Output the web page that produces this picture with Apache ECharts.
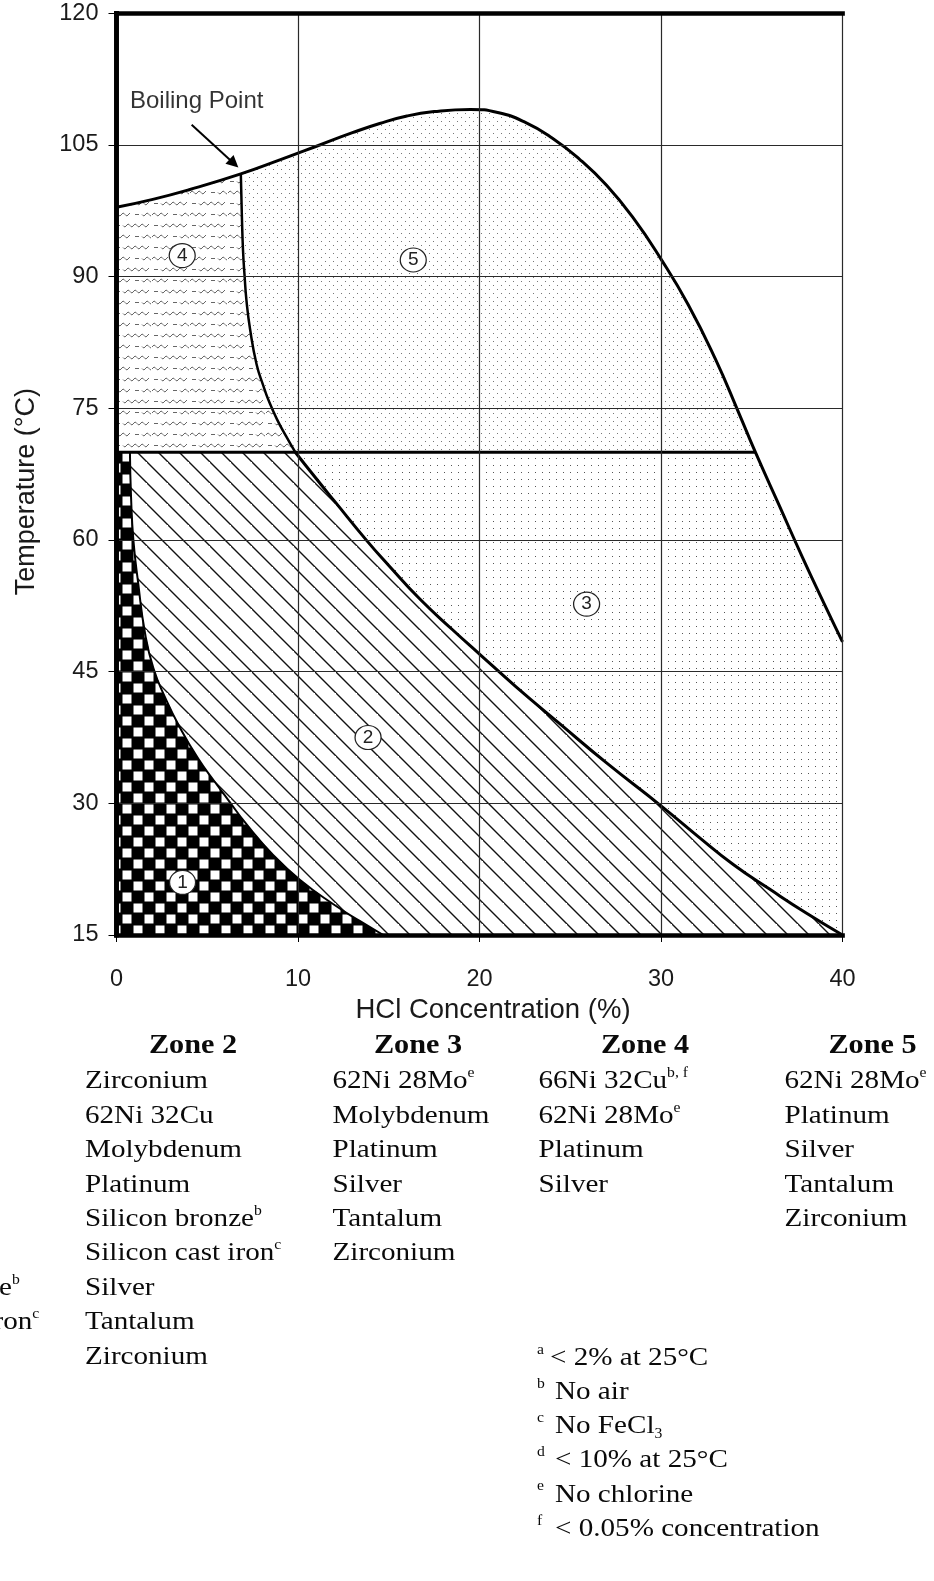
<!DOCTYPE html>
<html>
<head>
<meta charset="utf-8">
<title>HCl corrosion zones</title>
<script src="https://cdn.jsdelivr.net/npm/echarts@6.0.0/dist/echarts.min.js"></script>
<style>
  html, body { margin: 0; padding: 0; background: #ffffff; }
  #chart { width: 934px; height: 1581px; }
</style>
</head>
<body>
<div id="chart"></div>
<script>
// ---- Zone boundaries, as [HCl concentration %, temperature °C] ----
const boilingPoint = [
  [0, 97.9], [2, 98.8], [4, 99.9], [6.85, 101.7], [9, 103.3], [11.2, 105.0],
  [13, 106.4], [14.5, 107.45], [16, 108.3], [17.5, 108.8], [19.5, 109.05],
  [21, 108.7], [22.5, 107.6], [24, 105.8], [25.5, 103.4], [27, 100.4],
  [28.5, 96.6], [30, 92.0], [31.5, 86.8], [33, 80.6], [34.26, 74.6],
  [35.2, 70.0], [36.5, 64.0], [37.8, 58.0], [39, 52.7], [40, 48.4]
];
const zone45Divider = [
  [6.85, 101.7], [6.9, 97.5], [6.97, 93], [7.06, 90], [7.16, 87.3], [7.36, 84],
  [7.72, 80], [8.1, 77.5], [8.36, 76], [8.83, 73.8], [9.35, 71.8], [9.85, 70]
];
const zone23Boundary = [
  [9.85, 70], [11, 67.0], [12, 64.45], [13.8, 59.9], [15, 57.1], [16.7, 53.3],
  [18.5, 49.8], [20, 47.0], [22, 43.3], [24.4, 39.1], [27, 34.6], [29.95, 29.8],
  [32, 26.3], [34, 23.0], [36, 20.2], [38, 17.5], [40, 15]
];
const zone12Boundary = [
  [0.74, 70], [0.8, 65], [0.93, 60], [1.2, 55], [1.57, 49.4], [2.03, 45.4],
  [2.67, 42.1], [3.5, 38.6], [4.5, 35.1], [5.43, 32.4], [6.15, 30.4], [7.17, 27.6],
  [8.64, 24.1], [10.1, 21.3], [11.95, 18.5], [13.4, 16.6], [14.7, 15]
];
const limit70 = [[0, 70], [35.2, 70]];

// ---- Axes ----
const xMin = 0, xMax = 40, xStep = 10;
const yMin = 15, yMax = 120, yStep = 15;
const xTitle = 'HCl Concentration (%)';
const yTitle = 'Temperature (°C)';

// ---- Zone markers ----
const zoneIds = ['1', '2', '3', '4', '5'];
const zoneLabelX = [3.64, 13.86, 25.9, 3.62, 16.35];
const zoneLabelT = [21.0, 37.5, 52.7, 92.4, 91.9];

// ---- Boiling point callout ----
const boilingLabel = 'Boiling Point';
const boilingLabelAt = [4.42, 110.0];
const arrowFrom = [4.14, 107.3];
const arrowTo = [6.47, 102.9];

// ---- Materials per zone: [name, superscript note] ----
const zone1Materials = [['Silicon bronze', 'b'], ['Silicon cast iron', 'c']];
const zone2Materials = [
  ['Zirconium', ''], ['62Ni 32Cu', ''], ['Molybdenum', ''], ['Platinum', ''],
  ['Silicon bronze', 'b'], ['Silicon cast iron', 'c'], ['Silver', ''],
  ['Tantalum', ''], ['Zirconium', '']
];
const zone3Materials = [
  ['62Ni 28Mo', 'e'], ['Molybdenum', ''], ['Platinum', ''], ['Silver', ''],
  ['Tantalum', ''], ['Zirconium', '']
];
const zone4Materials = [['66Ni 32Cu', 'b, f'], ['62Ni 28Mo', 'e'], ['Platinum', ''], ['Silver', '']];
const zone5Materials = [
  ['62Ni 28Mo', 'e'], ['Platinum', ''], ['Silver', ''], ['Tantalum', ''], ['Zirconium', '']
];
const footnoteKeys = ['a', 'b', 'c', 'd', 'e', 'f'];
const footnoteTexts = ['< 2% at 25°C', 'No air', 'No FeCl', '< 10% at 25°C', 'No chlorine', '< 0.05% concentration'];
const footnoteSubs = ['', '', '3', '', '', ''];

// ---- Styling ----
const SANS = '"Liberation Sans", Arial, sans-serif';
const SERIF = '"Liberation Serif", "Times New Roman", serif';
const INK = '#0a0a0a';
const TEXT_SCALE = 1.12;

// ---- Fill patterns ----
function tile(w, h, draw) {
  const c = document.createElement('canvas');
  c.width = w; c.height = h;
  draw(c.getContext('2d'), w, h);
  return { image: c, repeat: 'repeat' };
}
const checkerFill = tile(22, 22, (ctx, w, h) => {
  ctx.fillStyle = '#000'; ctx.fillRect(0, 0, w, h);
  ctx.fillStyle = '#fff';
  ctx.fillRect(1.5, 1.5, 9, 9);
  ctx.fillRect(12.5, 12.5, 9, 9);
});
const hatchFill = tile(21, 21, (ctx, w, h) => {
  ctx.strokeStyle = '#111'; ctx.lineWidth = 1.4;
  ctx.beginPath();
  ctx.moveTo(-1, -1); ctx.lineTo(w + 1, h + 1);
  ctx.moveTo(-w - 1, -1); ctx.lineTo(1, h + 1);
  ctx.moveTo(w - 1, -h - 1); ctx.lineTo(2 * w + 1, h + 1);
  ctx.stroke();
});
const sparseDots = tile(7, 7, (ctx) => {
  ctx.fillStyle = '#555'; ctx.fillRect(3, 3, 1, 1);
});
const denseDots = tile(8, 8, (ctx) => {
  ctx.fillStyle = '#777';
  ctx.fillRect(1, 1, 1, 1);
  ctx.fillRect(5, 5, 1, 1);
});
const waveFill = tile(38, 22, (ctx) => {
  ctx.strokeStyle = '#666'; ctx.lineWidth = 1;
  const row = (y0, shift) => {
    ctx.beginPath();
    ctx.moveTo((shift + 2) % 38, y0); ctx.lineTo((shift + 2) % 38 + 4, y0);
    ctx.stroke();
    ctx.beginPath();
    for (let k = 0; k <= 26; k++) {
      const x = (shift + 9 + k);
      const y = y0 + 1.4 * Math.sin(2 * Math.PI * k / 7);
      const xx = x % 38;
      if (k === 0 || xx < (x - 1) % 38) ctx.moveTo(xx, y); else ctx.lineTo(xx, y);
    }
    ctx.stroke();
  };
  row(5.5, 0);
  row(16.5, 19);
});

// ---- Zone polygons built from the shared boundaries ----
const iDiv = boilingPoint.findIndex(p => p[0] === zone45Divider[0][0]);
const iEnd70 = boilingPoint.findIndex(p => p[0] === limit70[1][0]);
const rev = a => a.slice().reverse();
const zonePolygons = [
  [[xMin, yMin], [xMin, 70], ...zone12Boundary],
  [...zone23Boundary, ...rev(zone12Boundary)],
  [...boilingPoint.slice(iEnd70), [xMax, yMin], ...rev(zone23Boundary)],
  [[xMin, 70], ...boilingPoint.slice(0, iDiv + 1), ...zone45Divider],
  [...boilingPoint.slice(iDiv, iEnd70 + 1), ...rev(zone45Divider)]
];
const zoneFills = [checkerFill, hatchFill, sparseDots, waveFill, denseDots];

function outline(data, width) {
  return {
    type: 'line', data, smooth: true, symbol: 'none', silent: true, z: 2,
    lineStyle: { color: '#000', width }
  };
}

// ---- Text block beneath the chart ----
const HEADER_Y = 1046, ROW_Y = 1081.5, ROW_STEP = 34.4;
const itemRich = {
  m: { font: `26px ${SERIF}`, fill: INK, lineHeight: 30 },
  s: { font: `14px ${SERIF}`, fill: INK, lineHeight: 14, verticalAlign: 'top' }
};
const graphic = [];
function addColumn(title, titleX, left, items, firstRow) {
  if (title) {
    graphic.push({
      type: 'text', x: titleX, y: HEADER_Y, scaleX: TEXT_SCALE, silent: true,
      style: { text: title, font: `bold 27px ${SERIF}`, fill: INK, align: 'center', verticalAlign: 'middle' }
    });
  }
  items.forEach((it, i) => {
    graphic.push({
      type: 'text', x: left, y: ROW_Y + (firstRow + i) * ROW_STEP, scaleX: TEXT_SCALE, silent: true,
      style: {
        text: it[1] ? `{m|${it[0]}}{s|${it[1]}}` : `{m|${it[0]}}`,
        rich: itemRich, align: 'left', verticalAlign: 'middle'
      }
    });
  });
}
addColumn(null, 0, -157, zone1Materials, 6);
addColumn('Zone 2', 193, 85, zone2Materials, 0);
addColumn('Zone 3', 418, 332.5, zone3Materials, 0);
addColumn('Zone 4', 645, 538.5, zone4Materials, 0);
addColumn('Zone 5', 872.5, 784.5, zone5Materials, 0);

const NOTE_Y = 1358, NOTE_STEP = 34.2;
footnoteKeys.forEach((k, i) => {
  const y = NOTE_Y + i * NOTE_STEP;
  graphic.push({
    type: 'text', x: 537, y: y - 8, scaleX: TEXT_SCALE, silent: true,
    style: { text: k, font: `14px ${SERIF}`, fill: INK, align: 'left', verticalAlign: 'middle' }
  });
  graphic.push({
    type: 'text', x: i === 0 ? 550 : 555, y, scaleX: TEXT_SCALE, silent: true,
    style: {
      text: footnoteSubs[i] ? `{m|${footnoteTexts[i]}}{b|${footnoteSubs[i]}}` : `{m|${footnoteTexts[i]}}`,
      rich: {
        m: { font: `26px ${SERIF}`, fill: INK, lineHeight: 30 },
        b: { font: `14px ${SERIF}`, fill: INK, lineHeight: 14, verticalAlign: 'bottom' }
      },
      align: 'left', verticalAlign: 'middle'
    }
  });
});

// ---- Chart ----
const frameLine = { show: true, lineStyle: { color: '#000', width: 4.7, cap: 'square' } };
const chart = echarts.init(document.getElementById('chart'), null, { renderer: 'canvas' });
chart.setOption({
  animation: false,
  backgroundColor: '#ffffff',
  grid: { left: 116.5, right: 91.5, top: 13.3, bottom: 646 },
  xAxis: [
    {
      type: 'value', min: xMin, max: xMax, interval: xStep, position: 'bottom', z: 3,
      name: xTitle, nameLocation: 'middle', nameGap: 49,
      nameTextStyle: { fontFamily: SANS, fontSize: 27.5, color: '#1a1a1a', padding: [0, 0, 0, 27] },
      axisLine: frameLine,
      axisTick: { show: true, length: 7, lineStyle: { color: '#000', width: 1 } },
      axisLabel: { fontFamily: SANS, fontSize: 23.5, color: '#1a1a1a', margin: 33 },
      splitLine: { show: true, lineStyle: { color: '#2a2a2a', width: 1.2 } }
    },
    {
      type: 'value', min: xMin, max: xMax, interval: xStep, position: 'top', z: 3,
      axisLine: frameLine, axisTick: { show: false }, axisLabel: { show: false }, splitLine: { show: false }
    }
  ],
  yAxis: [
    {
      type: 'value', min: yMin, max: yMax, interval: yStep, position: 'left', z: 3,
      name: yTitle, nameLocation: 'middle', nameGap: 76, nameRotate: 90,
      nameTextStyle: { fontFamily: SANS, fontSize: 27, color: '#1a1a1a', padding: [0, 35, 0, 0] },
      axisLine: frameLine,
      axisTick: { show: true, length: 8, lineStyle: { color: '#000', width: 1 } },
      axisLabel: { fontFamily: SANS, fontSize: 23.5, color: '#1a1a1a', margin: 18 },
      splitLine: { show: true, lineStyle: { color: '#2a2a2a', width: 1.2 } }
    },
    {
      type: 'value', min: yMin, max: yMax, interval: yStep, position: 'right', z: 3,
      axisLine: frameLine, axisTick: { show: false }, axisLabel: { show: false }, splitLine: { show: false }
    }
  ],
  series: [
    {
      type: 'custom', coordinateSystem: 'cartesian2d', silent: true, z: 1,
      data: zoneIds.map((id, i) => [zoneLabelX[i], zoneLabelT[i]]),
      renderItem: (params, api) => ({
        type: 'polygon',
        shape: { points: zonePolygons[params.dataIndex].map(p => api.coord(p)) },
        style: { fill: zoneFills[params.dataIndex], stroke: null }
      })
    },
    outline(zone12Boundary, 2),
    outline(zone23Boundary, 3),
    outline(zone45Divider, 2.5),
    outline(limit70, 3),
    Object.assign(outline(boilingPoint, 3), {
      markLine: {
        silent: true, symbol: ['none', 'triangle'], symbolSize: 12,
        label: { show: false },
        lineStyle: { color: '#000', width: 2, type: 'solid' },
        data: [[{ coord: arrowFrom }, { coord: arrowTo }]]
      }
    }),
    {
      type: 'scatter', silent: true, z: 5,
      data: [{ value: boilingLabelAt, name: boilingLabel }],
      symbolSize: 1, itemStyle: { color: 'rgba(0,0,0,0)' },
      label: { show: true, position: 'inside', formatter: '{b}', fontFamily: SANS, fontSize: 24, color: '#000' }
    },
    {
      type: 'scatter', silent: true, z: 5,
      data: zoneIds.map((id, i) => ({ value: [zoneLabelX[i], zoneLabelT[i]], name: id })),
      symbol: 'circle', symbolSize: [26, 24],
      itemStyle: { color: '#fff', borderColor: '#222', borderWidth: 1.2, opacity: 1 },
      label: { show: true, position: 'inside', formatter: '{b}', fontFamily: SANS, fontSize: 19, color: '#222' }
    }
  ],
  graphic
});
</script>
</body>
</html>
